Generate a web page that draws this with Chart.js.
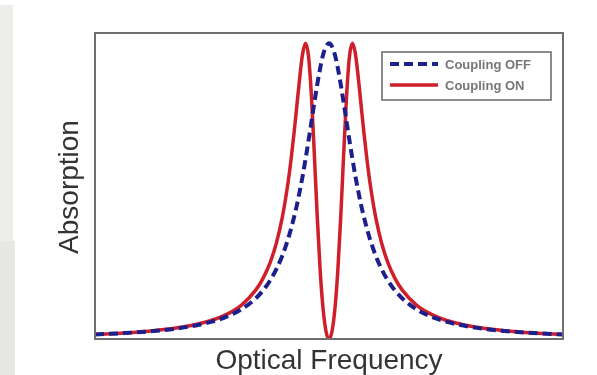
<!DOCTYPE html>
<html>
<head>
<meta charset="utf-8">
<script src="https://cdn.jsdelivr.net/npm/chart.js@4/dist/chart.umd.min.js"></script>
<style>
  html, body { margin: 0; padding: 0; background: #fff; }
  canvas { display: block; }
</style>
</head>
<body>
<canvas id="absChart" width="597" height="375"></canvas>
<script>
// detuning (arbitrary units)
var freq = [-8, -7, -6, -5, -4, -3.5, -3, -2.5, -2.25, -2, -1.8, -1.6, -1.5, -1.4, -1.3, -1.2, -1.1, -1, -0.9, -0.8, -0.7, -0.6, -0.5, -0.4, -0.3, -0.2, -0.1, 0,
  0.1, 0.2, 0.3, 0.4, 0.5, 0.6, 0.7, 0.8, 0.9, 1, 1.1, 1.2, 1.3, 1.4, 1.5, 1.6, 1.8, 2, 2.25, 2.5, 3, 3.5, 4, 5, 6, 7, 8];

var couplingOff = [0.0154, 0.020, 0.027, 0.0385, 0.0588, 0.0755, 0.100, 0.138, 0.165, 0.200, 0.236, 0.281, 0.308, 0.338, 0.372, 0.410, 0.452, 0.500, 0.552, 0.610, 0.671, 0.735, 0.800, 0.862, 0.917, 0.962, 0.990, 1,
  0.990, 0.962, 0.917, 0.862, 0.800, 0.735, 0.671, 0.610, 0.552, 0.500, 0.452, 0.410, 0.372, 0.338, 0.308, 0.281, 0.236, 0.200, 0.165, 0.138, 0.100, 0.0755, 0.0588, 0.0385, 0.027, 0.020, 0.0154];

var couplingOn = [0.0157, 0.0205, 0.0280, 0.0404, 0.0635, 0.0833, 0.114, 0.166, 0.206, 0.262, 0.324, 0.410, 0.465, 0.529, 0.605, 0.692, 0.788, 0.885, 0.966, 1.0, 0.956, 0.821, 0.622, 0.410, 0.229, 0.100, 0.0246, 0,
  0.0246, 0.100, 0.229, 0.410, 0.622, 0.821, 0.956, 1.0, 0.966, 0.885, 0.788, 0.692, 0.605, 0.529, 0.465, 0.410, 0.324, 0.262, 0.206, 0.166, 0.114, 0.0833, 0.0635, 0.0404, 0.0280, 0.0205, 0.0157];

var seriesNames = ["Coupling OFF", "Coupling ON"];
var xTitle = "Optical Frequency";
var yTitle = "Absorption";

var blue = "#1c1f8c";
var red = "#cf1f2a";

function pts(ys) {
  return freq.map(function (x, i) { return { x: x, y: ys[i] }; });
}

// gray page strip, frame, axis titles and the boxed legend
var decor = {
  id: "decor",
  beforeDraw: function (chart) {
    var c = chart.ctx;
    c.save();
    c.fillStyle = "#fff";
    c.fillRect(0, 0, chart.width, chart.height);
    c.fillStyle = "#edede9";
    c.fillRect(0, 5, 13, 236);
    c.fillStyle = "#e7e7e3";
    c.fillRect(0, 241, 15, 134);
    c.restore();
  },
  afterDraw: function (chart) {
    var c = chart.ctx;
    var a = chart.chartArea;
    c.save();
    c.strokeStyle = "#6e6e6e";
    c.lineWidth = 2;
    c.strokeRect(a.left, a.top, a.right - a.left, a.bottom - a.top);

    c.fillStyle = "#333";
    c.font = "28px 'Liberation Sans', Arial, sans-serif";
    c.textAlign = "center";
    c.textBaseline = "middle";
    c.fillText(xTitle, (a.left + a.right) / 2, 361);
    c.translate(70, 187);
    c.rotate(-Math.PI / 2);
    c.fillText(yTitle, 0, 0);
    c.restore();

    // legend
    c.save();
    c.fillStyle = "#fff";
    c.fillRect(382, 52, 169, 48);
    c.strokeStyle = "#666";
    c.lineWidth = 1.5;
    c.strokeRect(382, 52, 169, 48);
    var ds = chart.data.datasets;
    var rows = [64, 85];
    for (var i = 0; i < ds.length; i++) {
      c.beginPath();
      c.strokeStyle = ds[i].borderColor;
      c.lineWidth = ds[i].borderWidth;
      c.setLineDash(ds[i].borderDash || []);
      c.moveTo(390, rows[i]);
      c.lineTo(438, rows[i]);
      c.stroke();
    }
    c.setLineDash([]);
    c.fillStyle = "#777";
    c.font = "bold 13px 'Liberation Sans', Arial, sans-serif";
    c.textAlign = "left";
    c.textBaseline = "middle";
    for (var j = 0; j < ds.length; j++) {
      c.fillText(ds[j].label, 445, rows[j] + 1);
    }
    c.restore();
  }
};

new Chart(document.getElementById("absChart"), {
  type: "line",
  data: {
    datasets: [{
      label: seriesNames[0],
      data: pts(couplingOff),
      borderColor: blue,
      borderWidth: 4,
      borderDash: [9, 5],
      pointRadius: 0,
      cubicInterpolationMode: "monotone",
      fill: false
    }, {
      label: seriesNames[1],
      data: pts(couplingOn),
      borderColor: red,
      borderWidth: 3.5,
      pointRadius: 0,
      cubicInterpolationMode: "monotone",
      fill: false
    }]
  },
  options: {
    responsive: false,
    animation: false,
    events: [],
    layout: { padding: { left: 95, top: 33, right: 34, bottom: 36 } },
    plugins: { legend: { display: false }, tooltip: { enabled: false } },
    scales: {
      x: { type: "linear", min: -8, max: 8, display: false },
      y: { min: 0, max: 1.035, display: false }
    }
  },
  plugins: [decor]
});
</script>
</body>
</html>
